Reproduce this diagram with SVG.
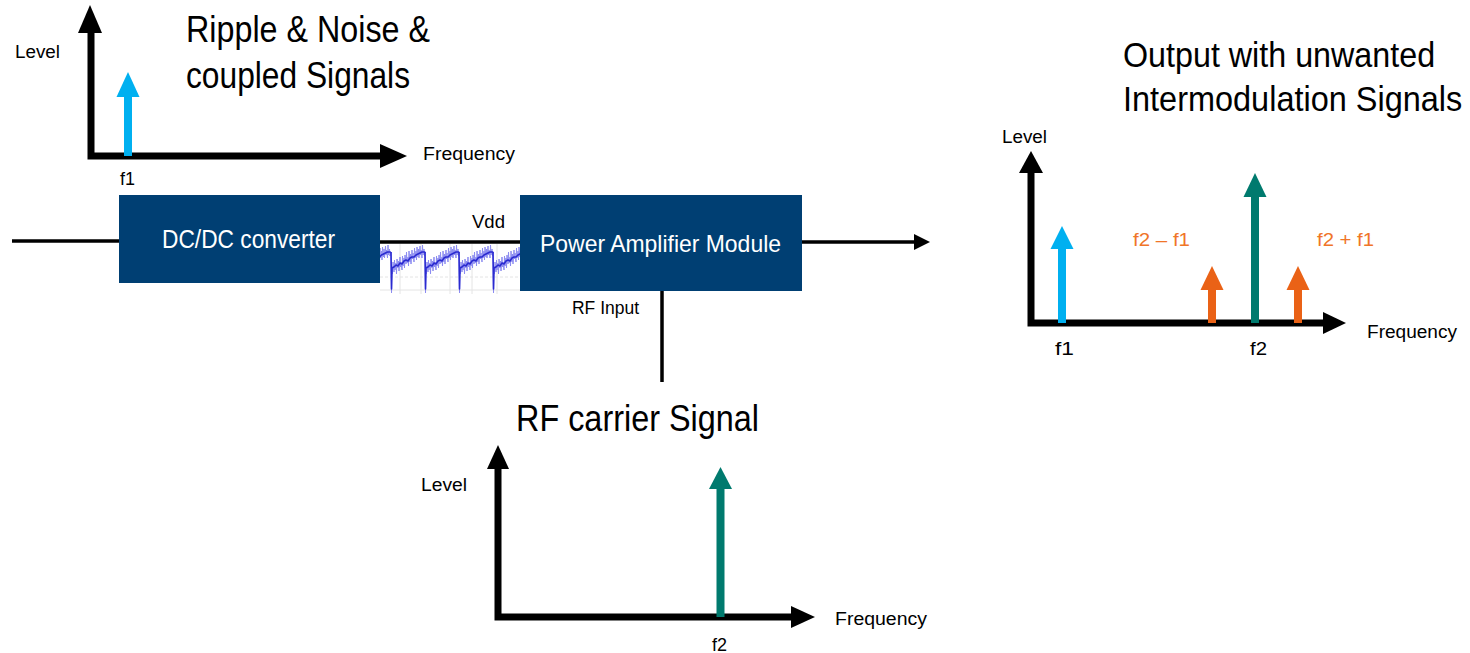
<svg xmlns="http://www.w3.org/2000/svg" width="1470" height="653" viewBox="0 0 1470 653">
<style>
  text { font-family: "Liberation Sans", Arial, sans-serif; fill: #000; }
  .lbl { font-size: 18px; }
  .title { font-size: 37px; }
  .box { fill: #003F73; }
  .btxt { fill: #fff; }
  .axis { stroke: #000; stroke-width: 7; fill: none; stroke-linejoin: miter; }
  .head { fill: #000; }
  .wire { stroke: #000; stroke-width: 3.5; fill: none; }
  .sig { stroke-width: 8; fill: none; }
  .blue { stroke: #00B0F0; } .blueF { fill: #00B0F0; }
  .teal { stroke: #007A6E; } .tealF { fill: #007A6E; }
  .orng { stroke: #EA6216; } .orngF { fill: #EA6216; }
  .otxt { fill: #F07528; }
  .grid { stroke: #e4e4e4; stroke-width: 1; }
</style>
<defs>
  <clipPath id="noiseClip"><rect x="380" y="244" width="140" height="50"/></clipPath>
  <path id="fuzz" d="M0,252 L0.5,293 L1,266 L1.5,274 L2,262 L3,272 L3.5,260 L4,270 L5,263 L5.5,274 L6,259 L7,268 L7.5,261 L8,271 L9,257 L9.5,267 L10,262 L11,270 L11.5,256 L12,266 L13,258 L13.5,268 L14,255 L15,264 L15.5,252 L16,263 L17,257 L17.5,266 L18,251 L19,262 L19.5,254 L20,264 L21,250 L21.5,259 L22,253 L23,262 L23.5,248 L24,258 L25,251 L25.5,260 L26,247 L27,257 L27.5,249 L28,258 L29,246 L29.5,255 L30,250 L31,258 L31.5,245 L32,255 L33,249 L33.5,256 L34.3,252"/>
  <path id="core" d="M0,252 L0.5,289 L1,268 L3,267 L5,265 L7,266 L9,263 L11,264 L13,261 L15,260 L17,261 L19,258 L21,257 L23,257 L25,255 L27,254 L29,253 L31,252 L33,252 L34.3,252"/>
</defs>

<!-- Ripple chart -->
<g id="chart-ripple">
  <path class="axis" d="M91,31 L91,156 L382,156"/>
  <polygon class="head" points="90,5 78,33 102,33"/>
  <polygon class="head" points="407,156 380,144 380,168"/>
  <line class="sig blue" x1="128" y1="156" x2="128" y2="95"/>
  <polygon class="blueF" points="128,72 116.5,97 139.5,97"/>
  <text class="lbl" x="15" y="58" textLength="45" lengthAdjust="spacingAndGlyphs">Level</text>
  <text class="lbl" x="423" y="160" textLength="92" lengthAdjust="spacingAndGlyphs">Frequency</text>
  <text class="lbl" x="120" y="185" textLength="15" lengthAdjust="spacingAndGlyphs">f1</text>
  <text class="title" x="186" y="42" textLength="244" lengthAdjust="spacingAndGlyphs">Ripple &amp; Noise &amp;</text>
  <text class="title" x="186" y="88" textLength="224" lengthAdjust="spacingAndGlyphs">coupled Signals</text>
</g>

<!-- DC/DC converter -->
<g id="dcdc">
  <rect class="box" x="119" y="195" width="261" height="88"/>
  <text class="btxt" x="162" y="248" font-size="25" textLength="173" lengthAdjust="spacingAndGlyphs">DC/DC converter</text>
</g>

<!-- Power Amplifier Module -->
<g id="pa">
  <rect class="box" x="520" y="195" width="282" height="96"/>
  <text class="btxt" x="540" y="252" font-size="24" textLength="241" lengthAdjust="spacingAndGlyphs">Power Amplifier Module</text>
</g>

<!-- Noise waveform plot -->
<g id="noise-plot">
  <rect x="380" y="244" width="140" height="50" fill="#fff"/>
  <g class="grid">
    <line x1="400" y1="244" x2="400" y2="294"/>
    <line x1="421" y1="244" x2="421" y2="294"/>
    <line x1="450" y1="244" x2="450" y2="294"/>
    <line x1="472" y1="244" x2="472" y2="294"/>
    <line x1="497" y1="244" x2="497" y2="294"/>
    <line x1="380" y1="277" x2="520" y2="277" stroke-dasharray="3 2"/>
    <line x1="380" y1="290" x2="520" y2="290"/>
  </g>
  <g clip-path="url(#noiseClip)" fill="none" stroke-linejoin="round">
    <g stroke="#8c8cf0" stroke-width="1">
      <use href="#fuzz" transform="translate(356.5,0)"/>
      <use href="#fuzz" transform="translate(391,0)"/>
      <use href="#fuzz" transform="translate(425,0)"/>
      <use href="#fuzz" transform="translate(459,0)"/>
      <use href="#fuzz" transform="translate(493,0)"/>
    </g>
    <g stroke="#2a2ad0" stroke-width="1.6">
      <use href="#core" transform="translate(356.5,0)"/>
      <use href="#core" transform="translate(391,0)"/>
      <use href="#core" transform="translate(425,0)"/>
      <use href="#core" transform="translate(459,0)"/>
      <use href="#core" transform="translate(493,0)"/>
    </g>
  </g>
</g>

<!-- Connectors -->
<g id="connectors">
  <line class="wire" x1="12" y1="241" x2="119" y2="241"/>
  <line class="wire" x1="380" y1="242" x2="520" y2="242" stroke-width="3"/>
  <line class="wire" x1="802" y1="242" x2="916" y2="242" stroke-width="4"/>
  <polygon class="head" points="930,242 914,234 914,250"/>
  <line class="wire" x1="662" y1="291" x2="662" y2="382" stroke-width="4"/>
  <text class="lbl" x="472" y="228" textLength="33" lengthAdjust="spacingAndGlyphs">Vdd</text>
  <text class="lbl" x="572" y="314" font-size="17.5" textLength="67" lengthAdjust="spacingAndGlyphs">RF Input</text>
</g>

<!-- RF carrier chart -->
<g id="chart-rf">
  <text class="title" x="516" y="431" textLength="243" lengthAdjust="spacingAndGlyphs">RF carrier Signal</text>
  <path class="axis" d="M498,468 L498,617 L793,617"/>
  <polygon class="head" points="498,445 487,469 509,469"/>
  <polygon class="head" points="815,617 791,606 791,628"/>
  <line class="sig teal" x1="720.5" y1="617" x2="720.5" y2="487"/>
  <polygon class="tealF" points="720.5,467 709,489 732,489"/>
  <text class="lbl" x="421" y="491" textLength="46" lengthAdjust="spacingAndGlyphs">Level</text>
  <text class="lbl" x="835" y="625" textLength="92" lengthAdjust="spacingAndGlyphs">Frequency</text>
  <text class="lbl" x="712" y="651" textLength="15" lengthAdjust="spacingAndGlyphs">f2</text>
</g>

<!-- Output chart -->
<g id="chart-output">
  <text font-size="35" transform="translate(1123,67) scale(0.922,1)">Output with unwanted</text>
  <text font-size="35" transform="translate(1123,111) scale(0.928,1)">Intermodulation Signals</text>
  <path class="axis" d="M1031,171 L1031,323 L1325,323"/>
  <polygon class="head" points="1031,151 1019,173 1043,173"/>
  <polygon class="head" points="1346,323 1323,312 1323,334"/>
  <line class="sig blue" x1="1062" y1="323" x2="1062" y2="247"/>
  <polygon class="blueF" points="1062,226 1050.5,249 1073.5,249"/>
  <line class="sig orng" x1="1212" y1="323" x2="1212" y2="288"/>
  <polygon class="orngF" points="1212,266 1200.5,290 1223.5,290"/>
  <line class="sig teal" x1="1255" y1="323" x2="1255" y2="195"/>
  <polygon class="tealF" points="1255,173 1243.5,197 1266.5,197"/>
  <line class="sig orng" x1="1298" y1="323" x2="1298" y2="288"/>
  <polygon class="orngF" points="1298,266 1286.5,290 1309.5,290"/>
  <text class="lbl" x="1002" y="143" textLength="45" lengthAdjust="spacingAndGlyphs">Level</text>
  <text class="lbl" x="1367" y="338" textLength="90" lengthAdjust="spacingAndGlyphs">Frequency</text>
  <text class="lbl" x="1055" y="355" textLength="19" lengthAdjust="spacingAndGlyphs">f1</text>
  <text class="lbl" x="1250" y="355" textLength="17" lengthAdjust="spacingAndGlyphs">f2</text>
  <text class="lbl otxt" x="1133" y="246" font-size="19" textLength="57" lengthAdjust="spacingAndGlyphs">f2 – f1</text>
  <text class="lbl otxt" x="1317" y="246" font-size="19" textLength="57" lengthAdjust="spacingAndGlyphs">f2 + f1</text>
</g>
</svg>
